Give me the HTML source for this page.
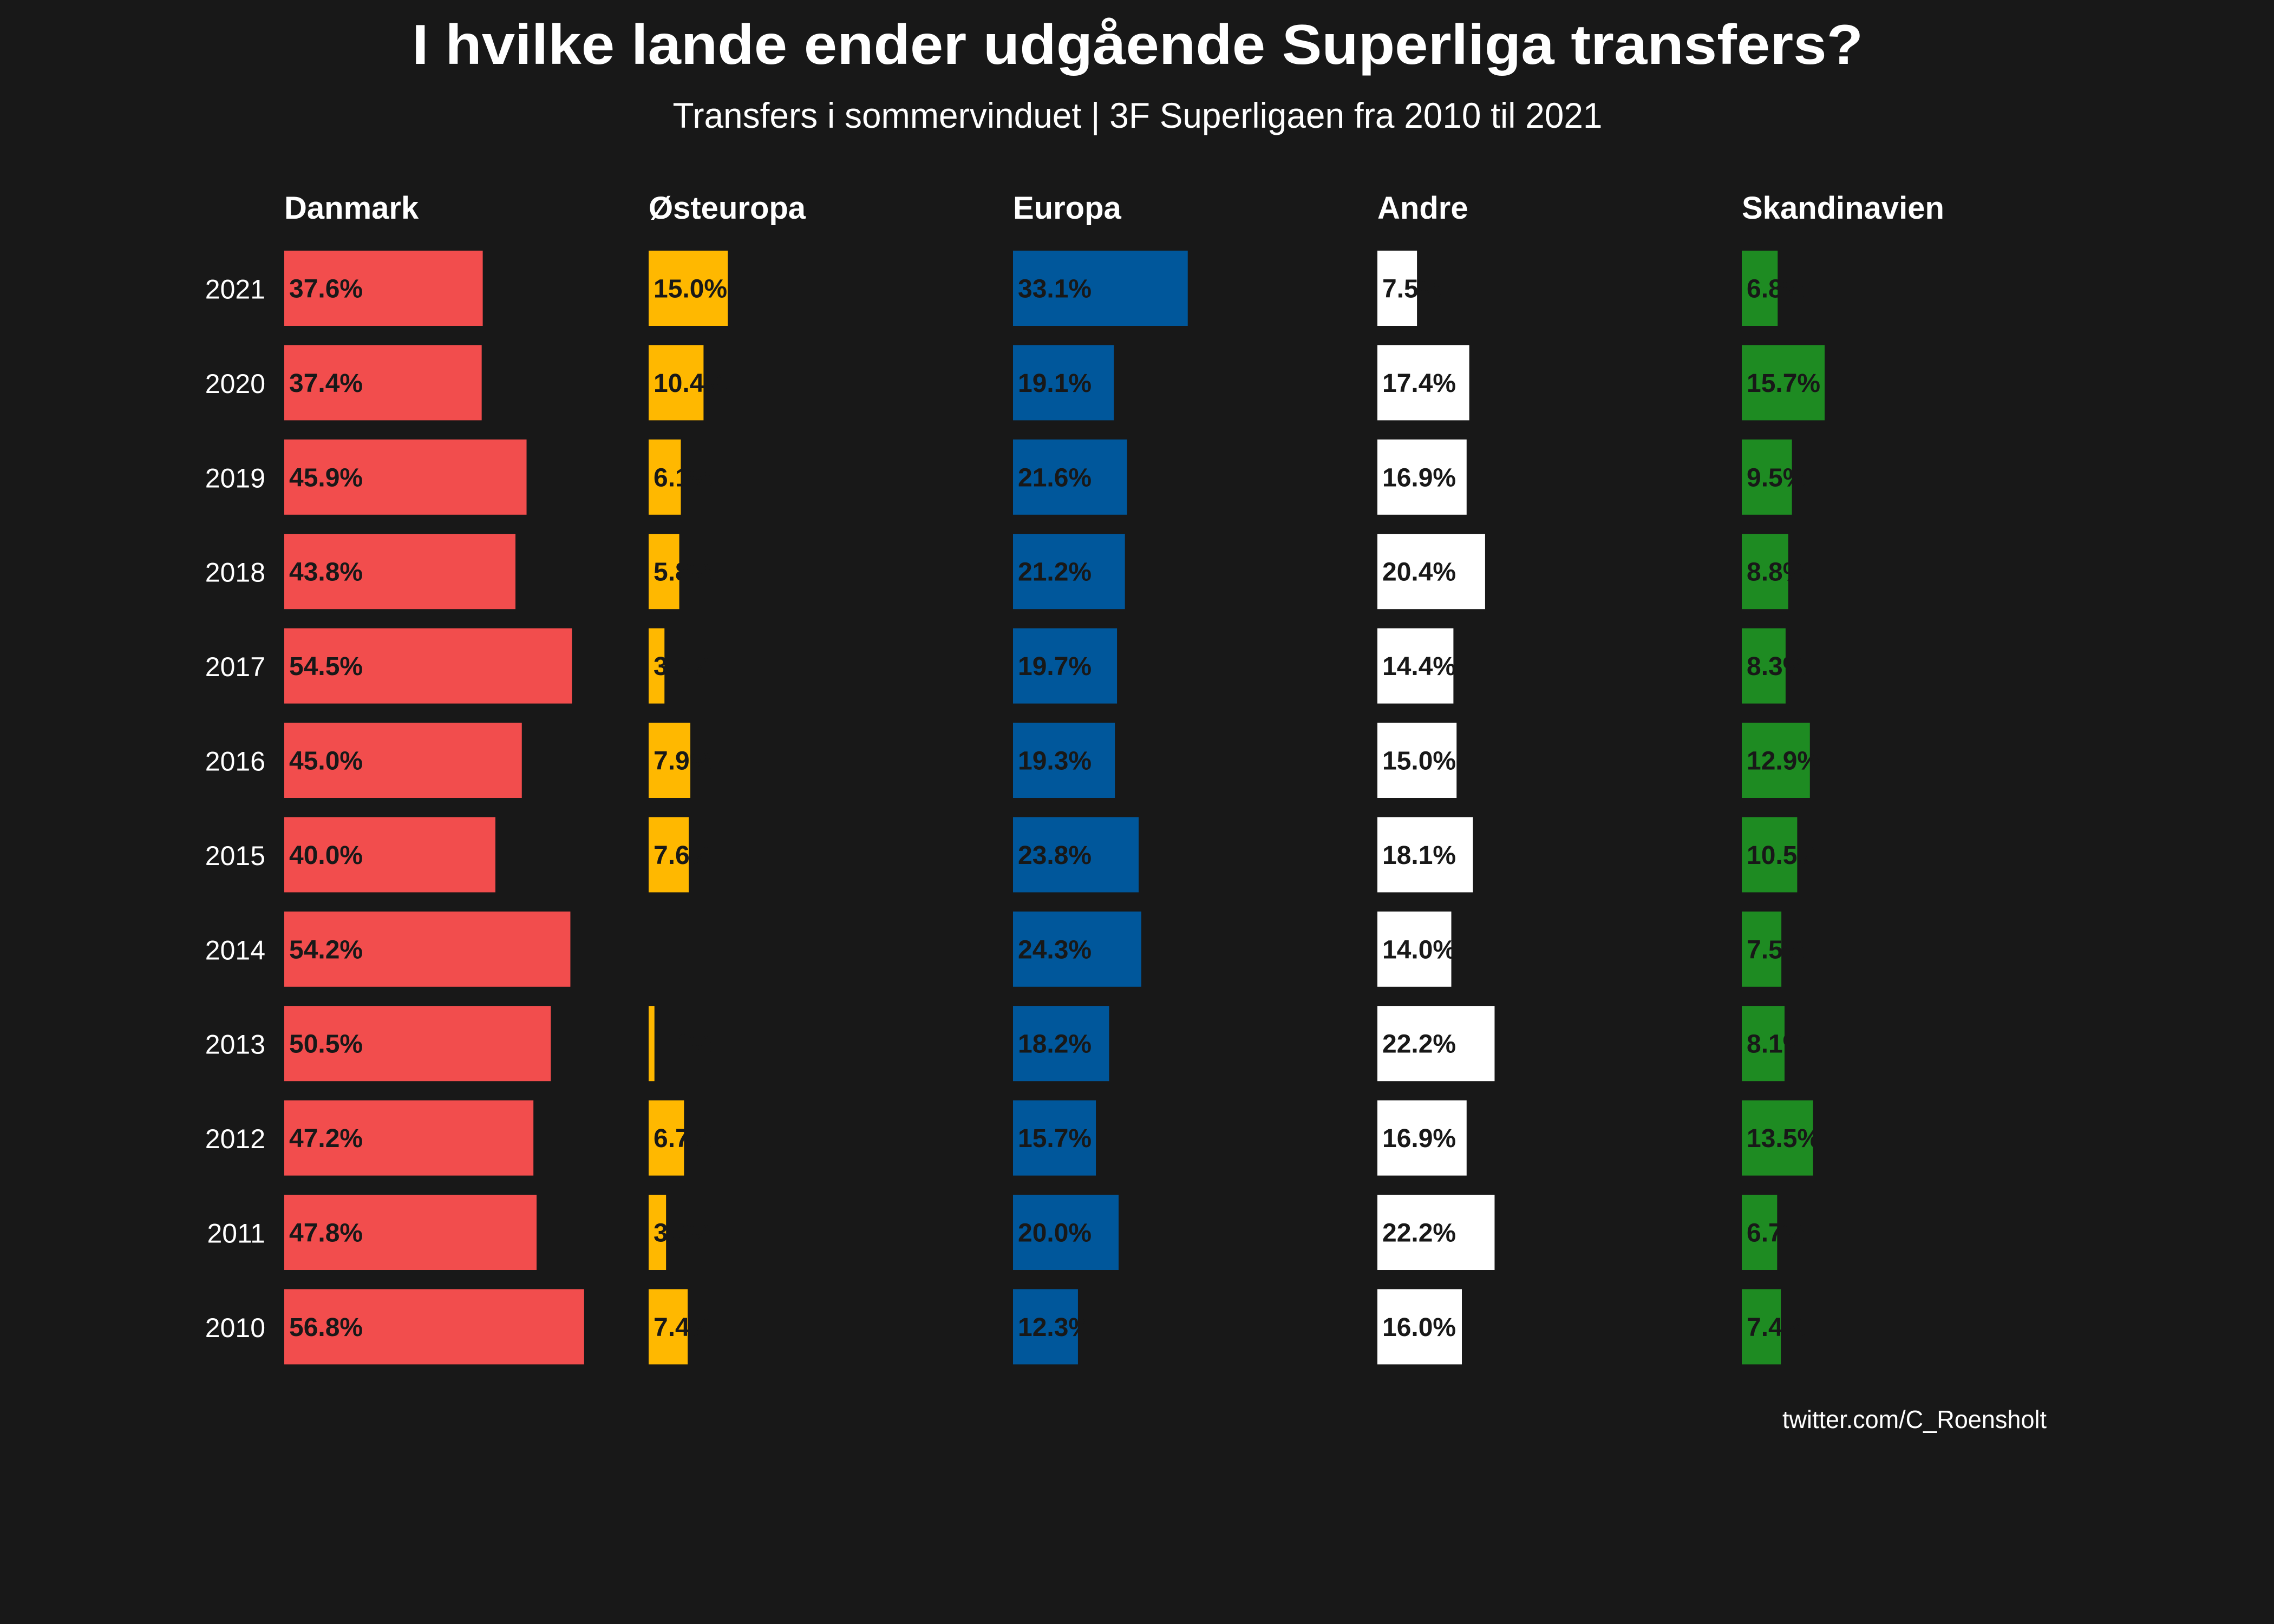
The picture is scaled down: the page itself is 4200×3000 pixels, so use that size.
<!DOCTYPE html>
<html><head><meta charset="utf-8">
<style>
html,body{margin:0;padding:0;background:#181818;}
svg{display:block;}
text{font-family:"Liberation Sans",sans-serif;}
</style></head>
<body>
<svg id="chart" width="4200" height="3000" viewBox="0 0 4200 3000" xmlns="http://www.w3.org/2000/svg">
<rect x="0" y="0" width="4200" height="3000" fill="#181818"/>
<text x="2101" y="118" text-anchor="middle" fill="#ffffff" font-weight="bold" font-size="104" textLength="2680" lengthAdjust="spacingAndGlyphs">I hvilke lande ender udgående Superliga transfers?</text>
<text x="2101" y="236" text-anchor="middle" fill="#ffffff" font-size="66" textLength="1717" lengthAdjust="spacingAndGlyphs">Transfers i sommervinduet | 3F Superligaen fra 2010 til 2021</text>
<text x="3780" y="2638" text-anchor="end" fill="#ffffff" font-size="46" textLength="488" lengthAdjust="spacingAndGlyphs">twitter.com/C_Roensholt</text>
<g id="plot"></g>
</svg>
<script>
const years = ["2021","2020","2019","2018","2017","2016","2015","2014","2013","2012","2011","2010"];
const regions = ["Danmark","Østeuropa","Europa","Andre","Skandinavien"];
const danmark = [37.6,37.4,45.9,43.8,54.5,45.0,40.0,54.2,50.5,47.2,47.8,56.8];
const osteuropa = [15.0,10.4,6.1,5.8,3.0,7.9,7.6,null,1.1,6.7,3.3,7.4];
const europa = [33.1,19.1,21.6,21.2,19.7,19.3,23.8,24.3,18.2,15.7,20.0,12.3];
const andre = [7.5,17.4,16.9,20.4,14.4,15.0,18.1,14.0,22.2,16.9,22.2,16.0];
const skandinavien = [6.8,15.7,9.5,8.8,8.3,12.9,10.5,7.5,8.1,13.5,6.7,7.4];

const series = [danmark, osteuropa, europa, andre, skandinavien];
const colors = ["#F24D4D","#FFB800","#00579B","#FFFFFF","#1E8B22"];
const NS = "http://www.w3.org/2000/svg";
const plot = document.getElementById('plot');
const panelX0 = 525, panelStep = 673, pxPerPct = 9.75;
const rowY0 = 463, rowStep = 174.4, barH = 139;
function xScale(p, v){ return panelX0 + p*panelStep + v*pxPerPct; }
function yScale(i){ return rowY0 + i*rowStep; }
function mk(tag, attrs){ const e=document.createElementNS(NS,tag); for(const k in attrs) e.setAttribute(k, attrs[k]); return e; }

years.forEach((y,i)=>{
  const t = mk('text',{x:490, y:yScale(i)+barH/2+19, 'text-anchor':'end', fill:'#ffffff', 'font-size':50});
  
  
  t.textContent = y;
  plot.appendChild(t);
});

regions.forEach((r,p)=>{
  const g = mk('g',{});
  
  
  plot.appendChild(g);
  const ht = mk('text',{x:xScale(p,0), y:404, fill:'#ffffff', 'font-size':58, 'font-weight':'bold'});
  
  
  ht.textContent = r;
  g.appendChild(ht);
  series[p].forEach((v,i)=>{
    if(v===null) return;
    const x0 = xScale(p,0);
    const b = mk('rect',{x:x0, y:yScale(i), width:xScale(p,v)-x0, height:barH, fill:colors[p]});
    
    
    g.appendChild(b);
    const l = mk('text',{x:x0+9, y:yScale(i)+barH/2+17, fill:'#181818', 'font-size':48, 'font-weight':'bold'});
    
    
    l.textContent = v.toFixed(1)+'%';
    g.appendChild(l);
  });
});
</script>
</body></html>
